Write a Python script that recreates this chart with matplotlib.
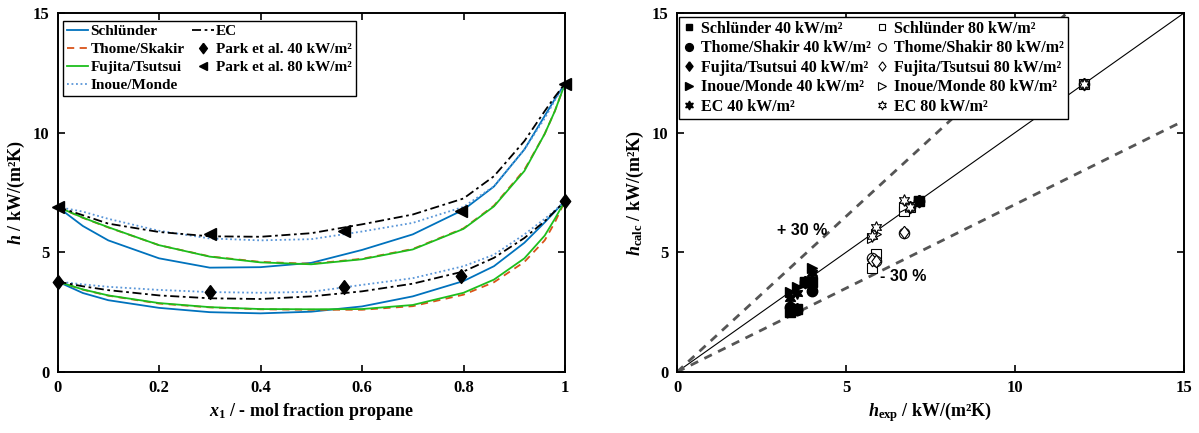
import numpy as np
import matplotlib
matplotlib.use('Agg')
import matplotlib.pyplot as plt

plt.rcParams['font.family'] = ['Liberation Serif', 'DejaVu Serif']
plt.rcParams['font.weight'] = 'bold'
plt.rcParams['axes.labelweight'] = 'bold'
plt.rcParams['mathtext.fontset'] = 'custom'
plt.rcParams['mathtext.rm'] = 'Liberation Serif:bold'
plt.rcParams['mathtext.it'] = 'Liberation Serif:italic:bold'
plt.rcParams['mathtext.bf'] = 'Liberation Serif:bold'

# --- data ---
x_mod = [0, 0.05, 0.1, 0.2, 0.3, 0.4, 0.5, 0.6, 0.7, 0.8, 0.86, 0.92, 0.96, 0.98, 1.0]

# 80 kW/m2 (upper group)
schl_80 = [6.9, 6.1, 5.5, 4.75, 4.36, 4.38, 4.56, 5.1, 5.75, 6.78, 7.75, 9.3, 10.7, 11.4, 12.05]
thome_80 = [6.9, 6.44, 6.04, 5.3, 4.83, 4.6, 4.52, 4.73, 5.14, 6.0, 6.95, 8.45, 9.95, 10.9, 12.05]
fujita_80 = [6.9, 6.45, 6.05, 5.3, 4.82, 4.58, 4.5, 4.71, 5.12, 5.98, 6.92, 8.4, 9.95, 10.9, 12.05]
inoue_80 = [6.9, 6.7, 6.4, 5.9, 5.58, 5.5, 5.55, 5.87, 6.23, 6.9, 7.76, 9.3, 10.6, 11.35, 12.05]
ec_80 = [6.9, 6.55, 6.2, 5.85, 5.67, 5.65, 5.8, 6.17, 6.58, 7.25, 8.18, 9.65, 10.9, 11.5, 12.05]

# 40 kW/m2 (lower group)
schl_40 = [3.78, 3.3, 3.0, 2.68, 2.5, 2.45, 2.52, 2.74, 3.16, 3.8, 4.42, 5.4, 6.25, 6.7, 7.15]
thome_40 = [3.78, 3.44, 3.19, 2.86, 2.7, 2.62, 2.6, 2.6, 2.75, 3.23, 3.75, 4.6, 5.5, 6.25, 7.15]
fujita_40 = [3.78, 3.45, 3.2, 2.88, 2.71, 2.63, 2.62, 2.63, 2.8, 3.31, 3.86, 4.75, 5.7, 6.4, 7.15]
inoue_40 = [3.78, 3.66, 3.56, 3.43, 3.34, 3.31, 3.35, 3.64, 3.92, 4.42, 4.9, 5.75, 6.4, 6.75, 7.15]
ec_40 = [3.78, 3.58, 3.42, 3.2, 3.08, 3.05, 3.16, 3.37, 3.69, 4.2, 4.77, 5.6, 6.3, 6.72, 7.15]

# Park et al. measurements
x_exp = [0, 0.30, 0.565, 0.795, 1.0]
park_40 = [3.78, 3.35, 3.55, 4.0, 7.15]
park_80 = [6.9, 5.78, 5.88, 6.72, 12.05]

# calculated values at the measured points (parity plot)
calc_40 = {
    'Schlünder': [3.78, 2.5, 2.65, 3.75, 7.15],
    'Thome/Shakir': [3.78, 2.7, 2.6, 3.38, 7.15],
    'Fujita/Tsutsui': [3.78, 2.72, 2.63, 3.45, 7.15],
    'Inoue/Monde': [3.78, 3.34, 3.55, 4.33, 7.15],
    'EC': [3.78, 3.08, 3.3, 4.15, 7.15],
}
calc_80 = {
    'Schlünder': [6.9, 4.36, 4.95, 6.72, 12.05],
    'Thome/Shakir': [6.9, 4.75, 4.62, 5.8, 12.05],
    'Fujita/Tsutsui': [6.9, 4.7, 4.62, 5.85, 12.05],
    'Inoue/Monde': [6.9, 5.58, 5.75, 6.9, 12.05],
    'EC': [6.9, 5.67, 6.05, 7.2, 12.05],
}

diamond = [(0, 1), (0.75, 0), (0, -1), (-0.75, 0), (0, 1)]
markers = {'Schlünder': 's', 'Thome/Shakir': 'o', 'Fujita/Tsutsui': diamond,
           'Inoue/Monde': '>', 'EC': (6, 1, 0)}
msizes = {'Schlünder': 6.5, 'Thome/Shakir': 7.5, 'Fujita/Tsutsui': 9,
          'Inoue/Monde': 7.5, 'EC': 8.5}

c_schl = '#0072BD'
c_thome = '#D95319'
c_fujita = '#1DBE1D'
c_inoue = '#5A96D8'

fig = plt.figure(figsize=(11.99, 4.33), dpi=100)
ax1 = fig.add_axes([57.5 / 1199, 61 / 433, 507.5 / 1199, 359 / 433])
ax2 = fig.add_axes([677 / 1199, 61 / 433, 507 / 1199, 359 / 433])

# --- left: h over composition ---
lw = 1.3
ax1.plot(x_mod, schl_80, color=c_schl, lw=lw, label='Schlünder')
ax1.plot(x_mod, thome_80, color=c_thome, lw=lw, ls=(0, (4, 3)), label='Thome/Skakir')
ax1.plot(x_mod, fujita_80, color=c_fujita, lw=lw, label='Fujita/Tsutsui')
ax1.plot(x_mod, inoue_80, color=c_inoue, lw=lw, ls=(0, (1, 1.5)), label='Inoue/Monde')
ax1.plot(x_mod, ec_80, color='black', lw=lw, ls=(0, (5, 2, 1.5, 2)), label='EC')
ax1.plot(x_mod, schl_40, color=c_schl, lw=lw)
ax1.plot(x_mod, thome_40, color=c_thome, lw=lw, ls=(0, (4, 3)))
ax1.plot(x_mod, fujita_40, color=c_fujita, lw=lw)
ax1.plot(x_mod, inoue_40, color=c_inoue, lw=lw, ls=(0, (1, 1.5)))
ax1.plot(x_mod, ec_40, color='black', lw=lw, ls=(0, (5, 2, 1.5, 2)))
ax1.plot(x_exp, park_40, marker=diamond, color='black', ms=10, ls='none',
         label='Park et al. 40 kW/m²', clip_on=False)
ax1.plot(x_exp, park_80, '<', color='black', ms=8, ls='none',
         label='Park et al. 80 kW/m²', clip_on=False)

ax1.set_xlim(0, 1)
ax1.set_ylim(0, 15)
ax1.set_xticks([0, 0.2, 0.4, 0.6, 0.8, 1])
ax1.set_xticklabels(['0', '0.2', '0.4', '0.6', '0.8', '1'])
ax1.set_yticks([0, 5, 10, 15])
ax1.set_xlabel(r'$x_{\mathit{1}}$ / - mol fraction propane', fontsize=13, labelpad=3)
ax1.set_ylabel(r'$h$ / kW/(m²K)', fontsize=13, labelpad=4)
leg1 = ax1.legend(ncol=2, loc='upper left', bbox_to_anchor=(0.011, 0.979), borderaxespad=0,
                  fontsize=11, frameon=True, fancybox=False, edgecolor='black', framealpha=1,
                  handlelength=1.4, handletextpad=0.15, labelspacing=0.28, columnspacing=0.5,
                  borderpad=0.25, markerscale=0.75)
leg1.get_frame().set_linewidth(1.0)

# --- right: parity plot ---
ref = [0, 15]
ax2.plot(ref, ref, color='black', lw=0.8)
ax2.plot(ref, [v * 1.3 for v in ref], color='#555555', lw=2, ls=(0, (3, 2.5)))
ax2.plot(ref, [v * 0.7 for v in ref], color='#555555', lw=2, ls=(0, (3, 2.5)))

handles_40 = []
handles_80 = []
for name in calc_40:
    h, = ax2.plot(park_40, calc_40[name], marker=markers[name], ms=msizes[name], ls='none',
                  color='black', label=name + ' 40 kW/m²')
    handles_40.append(h)
for name in calc_80:
    h, = ax2.plot(park_80, calc_80[name], marker=markers[name], ms=msizes[name], ls='none',
                  color='black', mfc='white', mew=0.8, label=name + ' 80 kW/m²')
    handles_80.append(h)

ax2.text(2.96, 5.93, '+ 30 %', family='Liberation Sans', fontsize=11.5, fontweight='bold', va='center')
ax2.text(6.0, 3.97, '- 30 %', family='Liberation Sans', fontsize=11.5, fontweight='bold', va='center')

ax2.set_xlim(0, 15)
ax2.set_ylim(0, 15)
ax2.set_xticks([0, 5, 10, 15])
ax2.set_yticks([0, 5, 10, 15])
ax2.set_xlabel(r'$h_{\mathrm{exp}}$ / kW/(m²K)', fontsize=13, labelpad=3)
ax2.set_ylabel(r'$h_{\mathrm{calc}}$ / kW/(m²K)', fontsize=13, labelpad=4)
leg2 = ax2.legend(handles=handles_40 + handles_80, ncol=2, loc='upper left',
                  bbox_to_anchor=(0.003, 0.99), borderaxespad=0, fontsize=11.5,
                  frameon=True, fancybox=False, edgecolor='black', framealpha=1,
                  handlelength=0.8, handletextpad=0.35, labelspacing=0.22, columnspacing=0.3,
                  borderpad=0.25, markerscale=0.75)
leg2.get_frame().set_linewidth(1.0)

for ax in (ax1, ax2):
    ax.tick_params(direction='in', top=True, right=True, length=5, width=1.2,
                   labelsize=12, pad=6)
    for s in ax.spines.values():
        s.set_linewidth(1.4)

fig.savefig('out.png', dpi=100)
